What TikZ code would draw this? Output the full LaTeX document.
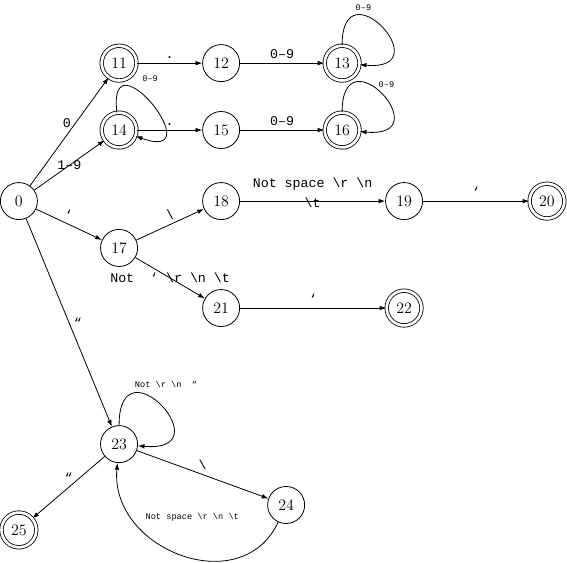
\documentclass[tikz,border=0pt]{standalone}
\usepackage{fontspec}
\usetikzlibrary{arrows.meta}
\newfontfamily\lblfont{Liberation Mono}
\newcommand{\bkslash}{\textbackslash}
\tikzset{
  state/.style={draw, circle, minimum size=0.98cm, inner sep=0pt, font=\large},
  accept/.style={state, double, double distance=2pt, minimum size=0.92cm},
  lbl/.style={font=\lblfont\fontsize{10}{15}\selectfont},
  small lbl/.style={font=\lblfont\fontsize{6.5}{8}\selectfont},
  selfloop/.style={out=90, in=-5, looseness=8, shorten >=5pt},
}
\begin{document}
\begin{tikzpicture}[>={Latex[length=5pt,width=3.5pt]}, line width=0.6pt]
  \useasboundingbox (0,0) rectangle (15.0,14.87);

  % states
  \node[state] (q0) at (0.50,9.55) {0};
  \node[accept] (q11) at (3.15,13.20) {11};
  \node[state] (q12) at (5.85,13.20) {12};
  \node[accept] (q13) at (9.05,13.20) {13};
  \node[accept] (q14) at (3.15,11.43) {14};
  \node[state] (q15) at (5.85,11.43) {15};
  \node[accept] (q16) at (9.05,11.43) {16};
  \node[state] (q17) at (3.15,8.31) {17};
  \node[state] (q18) at (5.85,9.55) {18};
  \node[state] (q19) at (10.69,9.55) {19};
  \node[accept] (q20) at (14.47,9.55) {20};
  \node[state] (q21) at (5.85,6.72) {21};
  \node[accept] (q22) at (10.69,6.72) {22};
  \node[state] (q23) at (3.15,3.12) {23};
  \node[state] (q24) at (7.57,1.51) {24};
  \node[accept] (q25) at (0.50,0.85) {25};

  % transitions
  \draw[->] (q0) -- node[lbl, pos=0.58, left] {0} (q11);
  \draw[->] (q0) -- node[lbl, midway] {1–9} (q14);
  \draw[->] (q0) -- node[lbl, midway, above] {‘} (q17);
  \draw[->] (q0) -- node[lbl, midway, right] {“} (q23);
  \draw[->] (q11) -- node[lbl, midway, above] {.} (q12);
  \draw[->] (q12) -- node[lbl, midway, above] {0–9} (q13);
  \draw[->] (q14) -- node[lbl, midway, above] {.} (q15);
  \draw[->] (q15) -- node[lbl, midway, above] {0–9} (q16);
  \draw[->] (q17) -- node[lbl, midway, above] {\bkslash} (q18);
  \draw[->] (q17) -- node[lbl, midway] {Not~~‘ \bkslash r \bkslash n \bkslash t} (q21);
  \draw[->] (q18) -- node[lbl, midway, yshift=0.22cm, align=center] {Not space \bkslash r \bkslash n\\\bkslash t} (q19);
  \draw[->] (q19) -- node[lbl, midway, above] {‘} (q20);
  \draw[->] (q21) -- node[lbl, midway, above] {‘} (q22);
  \draw[->] (q23) -- node[lbl, midway, above] {\bkslash} (q24);
  \draw[->] (q23) -- node[lbl, midway, above] {“} (q25);
  \draw[->] (q24) to[out=245, in=265, looseness=1.3]
    node[small lbl, pos=0.45, yshift=1.07cm] {Not space \bkslash r \bkslash n \bkslash t} (q23);

  % self loops
  \draw[->] (q13) to[selfloop] node[small lbl, pos=0.32, above] {0–9} (q13);
  \draw[->] (q16) to[selfloop] node[small lbl, pos=0.45, above right, inner sep=1pt] {0–9} (q16);
  \draw[->] (q14) to[selfloop, out=97, in=-20, looseness=7, shorten >=2pt] node[small lbl, pos=0.3, above, xshift=0.5cm] {0–9} (q14);
  \draw[->] (q23) to[selfloop] node[small lbl, pos=0.3, above, xshift=0.7cm] {Not \bkslash r \bkslash n~~“} (q23);
\end{tikzpicture}
\end{document}
